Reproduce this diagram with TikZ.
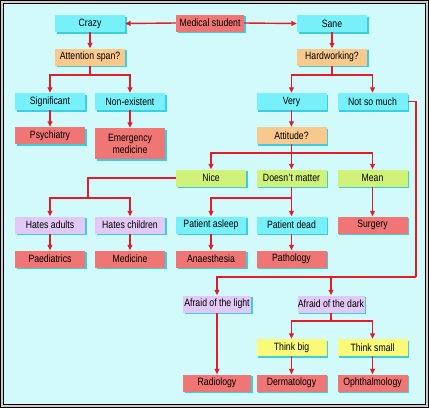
\documentclass[tikz,border=0pt]{standalone}
\usepackage{fontspec}
\setmainfont[FakeStretch=0.82]{Liberation Sans}
\usetikzlibrary{arrows.meta,shadows}
\definecolor{bgc}{RGB}{210,250,250}
\definecolor{cyanbox}{RGB}{120,240,250}
\definecolor{redbox}{RGB}{240,118,118}
\definecolor{orangebox}{RGB}{248,200,140}
\definecolor{greenbox}{RGB}{208,242,120}
\definecolor{lavbox}{RGB}{225,200,245}
\definecolor{yellowbox}{RGB}{250,250,120}
\definecolor{shcol}{RGB}{60,205,225}
\definecolor{linec}{RGB}{228,28,40}
\tikzset{
  box/.style={minimum width=70pt,minimum height=17pt,inner sep=0pt,align=center,
    font=\fontsize{10.6}{12}\selectfont,
    drop shadow={shadow xshift=1.8pt,shadow yshift=-1.8pt,fill=shcol,opacity=1}},
  cy/.style={box,fill=cyanbox},
  rd/.style={box,fill=redbox},
  og/.style={box,fill=orangebox},
  gr/.style={box,fill=greenbox},
  lv/.style={box,fill=lavbox},
  yl/.style={box,fill=yellowbox},
  ln/.style={draw=linec,line width=1.4pt},
  arr/.style={ln,-{Triangle[length=5.5pt,width=5pt]}}
}
\begin{document}
\begin{tikzpicture}[x=1pt,y=-1pt]
\useasboundingbox (0,0) rectangle (429,408);
\fill[gray!40] (0,0) rectangle (429,408);
\draw[black,line width=1.3pt] (0.65,0.65) rectangle (428.35,407.35);
\fill[bgc] (3,3) rectangle (426,405);
\draw[black,line width=1.3pt] (3.65,3.65) rectangle (425.35,404.35);
% nodes
\node[rd,minimum width=68pt] (med) at (210,23) {Medical student};
\node[cy] (crazy) at (90,23.5) {Crazy};
\node[cy] (sane) at (332,23.5) {Sane};
\node[og] (att) at (90,57) {Attention span?};
\node[og] (hard) at (332,57) {Hardworking?};
\node[cy] (sig) at (50,101.5) {Significant};
\node[cy] (non) at (130,101.5) {Non-existent};
\node[cy] (very) at (291.5,101.5) {Very};
\node[cy] (notso) at (372.5,101.5) {Not so much};
\node[rd] (psy) at (50,135.5) {Psychiatry};
\node[rd,minimum height=31pt] (emer) at (130,143.5) {Emergency\\medicine};
\node[og] (attd) at (291.5,135.5) {Attitude?};
\node[gr] (nice) at (211,178) {Nice};
\node[gr] (dm) at (291.5,178) {Doesn{\kern0.5pt}'t matter};
\node[gr] (mean) at (372.5,178) {Mean};
\node[lv] (hadults) at (50,225) {Hates adults};
\node[lv] (hchild) at (130,225) {Hates children};
\node[cy] (pasleep) at (211,225) {Patient asleep};
\node[cy] (pdead) at (291.5,225) {Patient dead};
\node[rd] (surgery) at (372.5,225) {Surgery};
\node[rd] (paed) at (50,259) {Paediatrics};
\node[rd] (medicine) at (130,259) {Medicine};
\node[rd] (anaes) at (211,259) {Anaesthesia};
\node[rd] (path) at (291.5,259) {Pathology};
\node[lv,minimum width=68pt] (alight) at (217,304) {Afraid of the light};
\node[lv,minimum width=67pt] (adark) at (331,304) {Afraid of the dark};
\node[yl] (tbig) at (291.5,347.5) {Think big};
\node[yl] (tsmall) at (372.5,347.5) {Think small};
\node[rd,minimum width=68pt] (radio) at (217,383) {Radiology};
\node[rd] (derm) at (291.5,383) {Dermatology};
\node[rd] (oph) at (372.5,383) {Ophthalmology};
% junction coordinates
\coordinate (s1) at (90,75);
\coordinate (s2) at (332,75);
\coordinate (s3) at (291.5,153);
\coordinate (s4) at (88,198);
\coordinate (s5) at (291.5,198);
\coordinate (s6) at (416,277);
\coordinate (s7) at (331,321);
% connectors
\draw[arr] (med.west) -- (crazy.east);
\draw[arr] (med.east) -- (sane.west);
\draw[arr] (crazy) -- (att);
\draw[arr] (sane) -- (hard);
\draw[ln] (att.south) -- (s1);
\draw[arr] (s1) -| (sig.north);
\draw[arr] (s1) -| (non.north);
\draw[ln] (hard.south) -- (s2);
\draw[arr] (s2) -| (very.north);
\draw[arr] (s2) -| (notso.north);
\draw[arr] (sig) -- (psy);
\draw[arr] (non) -- (emer);
\draw[arr] (very) -- (attd);
\draw[ln] (attd.south) -- (s3);
\draw[arr] (s3) -| (nice.north);
\draw[arr] (s3) -- (dm.north);
\draw[arr] (s3) -| (mean.north);
\draw[ln] (nice.west) -| (s4);
\draw[arr] (s4) -| (hadults.north);
\draw[arr] (s4) -| (hchild.north);
\draw[ln] (dm.south) -- (s5);
\draw[arr] (s5) -| (pasleep.north);
\draw[arr] (s5) -- (pdead.north);
\draw[arr] (mean) -- (surgery);
\draw[arr] (hadults) -- (paed);
\draw[arr] (hchild) -- (medicine);
\draw[arr] (pasleep) -- (anaes);
\draw[arr] (pdead) -- (path);
\draw[ln] (notso.east) -| (s6);
\draw[arr] (s6) -| (alight.north);
\draw[arr] (adark |- s6) -- (adark.north);
\draw[arr] (alight) -- (radio);
\draw[ln] (adark.south) -- (s7);
\draw[arr] (s7) -| (tbig.north);
\draw[arr] (s7) -| (tsmall.north);
\draw[arr] (tbig) -- (derm);
\draw[arr] (tsmall) -- (oph);
\end{tikzpicture}
\end{document}
